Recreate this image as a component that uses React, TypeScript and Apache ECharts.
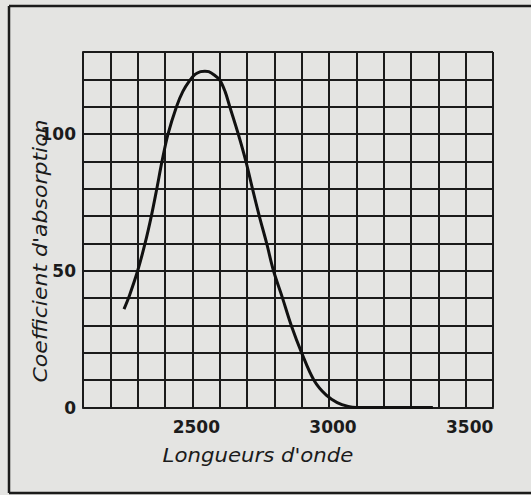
import React, { useEffect, useRef } from "react";
import * as echarts from "echarts";

const wavelengths = [2250, 2270, 2300, 2327, 2350, 2370, 2389, 2411, 2442, 2465, 2490, 2510, 2530, 2546, 2560, 2580, 2600, 2620, 2637, 2668, 2696, 2720, 2745, 2772, 2797, 2830, 2862, 2900, 2945, 2990, 3030, 3070, 3100, 3380];
const absorption = [36, 41, 50, 60, 70, 80, 90, 100, 110, 115.5, 119.5, 121.8, 122.8, 123, 122.8, 121.6, 119.8, 115.5, 110, 100, 90, 80, 70, 60, 50, 40, 30, 20, 10, 4.5, 1.8, 0.4, 0, 0];
const xTickLabels = [2500, 3000, 3500];
const yTickLabels = [0, 50, 100];
const xTitle = "Longueurs d'onde";
const yTitle = "Coefficient d'absorption";

const INK = "#1b1b1b";
const PAPER = "#e4e4e2";

export default function App() {
  const ref = useRef<HTMLDivElement>(null);
  useEffect(() => {
    if (!ref.current) return;
    const chart = echarts.init(ref.current, undefined, { renderer: "svg" });
    const data = wavelengths.map((w, i) => [w, absorption[i]]);
    const frameLine = (x1: number, y1: number, x2: number, y2: number) => ({
      type: "line",
      shape: { x1, y1, x2, y2 },
      style: { stroke: INK, lineWidth: 2.5 },
    });
    chart.setOption({
      animation: false,
      backgroundColor: PAPER,
      grid: { left: 83, top: 52, width: 410, height: 355.5, outerBoundsMode: "none" },
      xAxis: {
        type: "value",
        min: 2100,
        max: 3600,
        interval: 100,
        axisLine: { show: true, lineStyle: { color: INK, width: 2 } },
        axisTick: { show: false },
        splitLine: { show: true, lineStyle: { color: INK, width: 2 } },
        axisLabel: {
          margin: 11,
          color: INK,
          fontFamily: "DejaVu Sans",
          fontWeight: "bold",
          fontSize: 17,
          lineHeight: 17,
          padding: [0, 0, 0, 8],
          formatter: (v: number) => (xTickLabels.includes(v) ? String(v) : ""),
        },
      },
      yAxis: {
        type: "value",
        min: 0,
        max: 130,
        interval: 10,
        axisLine: { show: true, lineStyle: { color: INK, width: 2 } },
        axisTick: { show: false },
        splitLine: { show: true, lineStyle: { color: INK, width: 2 } },
        axisLabel: {
          margin: 7,
          color: INK,
          fontFamily: "DejaVu Sans",
          fontWeight: "bold",
          fontSize: 17,
          padding: [0, 0, 12, 0],
          formatter: (v: number) => (yTickLabels.includes(v) ? String(v) : ""),
        },
      },
      series: [
        {
          type: "line",
          data,
          smooth: 0.35,
          showSymbol: false,
          lineStyle: { color: "#111", width: 3 },
          z: 5,
        },
      ],
      graphic: [
        frameLine(9, 6, 531, 6),
        frameLine(9, 6, 9, 493),
        frameLine(9, 493, 531, 493),
        {
          type: "text",
          x: 258,
          y: 455,
          scaleX: 1.12,
          style: {
            text: xTitle,
            fill: INK,
            font: "italic 19px 'DejaVu Sans'",
            textAlign: "center",
            textVerticalAlign: "middle",
          },
        },
        {
          type: "text",
          x: 40,
          y: 251,
          rotation: Math.PI / 2,
          scaleX: 1.1,
          style: {
            text: yTitle,
            fill: INK,
            font: "italic 20px 'DejaVu Sans'",
            textAlign: "center",
            textVerticalAlign: "middle",
          },
        },
      ],
    });
    return () => chart.dispose();
  }, []);
  return (
    <div
      ref={ref}
      style={{ position: "fixed", left: 0, top: 0, width: 531, height: 495 }}
    />
  );
}
